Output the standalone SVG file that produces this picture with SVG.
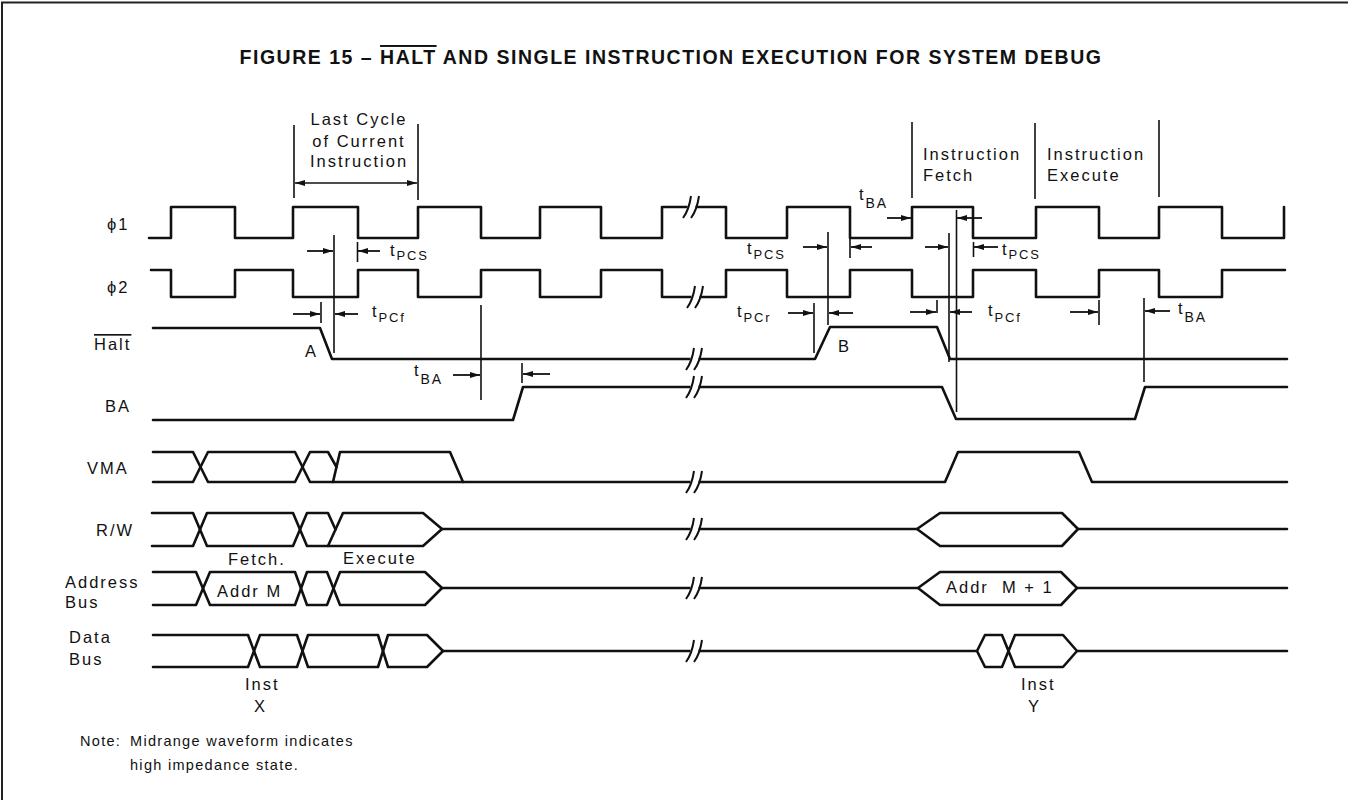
<svg xmlns="http://www.w3.org/2000/svg" width="1348" height="800" viewBox="0 0 1348 800">
<style>
.w{fill:none;stroke:#111;stroke-width:2.6;stroke-linejoin:round;stroke-linecap:round}
.r{fill:none;stroke:#111;stroke-width:1.6}
.a{fill:none;stroke:#111;stroke-width:1.8;marker-end:url(#ah)}
.t{font-family:"Liberation Sans",Arial,"DejaVu Sans",sans-serif;font-size:16.5px;letter-spacing:2px;fill:#111}
.s{font-size:13px;letter-spacing:1.8px}
.sb{font-size:14px;letter-spacing:1.8px}
.n{font-family:"Liberation Sans",Arial,sans-serif;font-size:14.5px;letter-spacing:1.3px;fill:#111}
.ttl{font-family:"Liberation Sans",Arial,sans-serif;font-size:19.5px;font-weight:bold;letter-spacing:1.5px;fill:#111}
.frame{fill:none;stroke:#222;stroke-width:2}
</style>
<defs>
<marker id="ah" viewBox="0 0 10 6" refX="10" refY="3" markerWidth="10" markerHeight="6" markerUnits="userSpaceOnUse" orient="auto-start-reverse" preserveAspectRatio="none"><path d="M0,0 L10,3 L0,6 z" fill="#111"/></marker>
<g id="brk"><rect x="-4.5" y="-5" width="8" height="10" fill="#fff"/><path d="M-9,11 Q-3,3 -1,-11 M-1,11 Q5,3 7,-11" fill="none" stroke="#111" stroke-width="2"/></g>
</defs>
<rect x="0" y="0" width="1348" height="800" fill="#fff"/>
<path class="frame" d="M2,800 V2.5 H1348"/>

<g id="title">
<text class="ttl" x="671" y="64" text-anchor="middle">FIGURE 15 – <tspan style="text-decoration:overline">HALT</tspan> AND SINGLE INSTRUCTION EXECUTION FOR SYSTEM DEBUG</text>
</g>

<g id="phase-labels">
<text class="t" x="359" y="125" text-anchor="middle">Last Cycle</text>
<text class="t" x="359" y="146.5" text-anchor="middle">of Current</text>
<text class="t" x="359" y="167" text-anchor="middle">Instruction</text>
<text class="t" x="923" y="160">Instruction</text>
<text class="t" x="923" y="181">Fetch</text>
<text class="t" x="1047" y="160">Instruction</text>
<text class="t" x="1047" y="181">Execute</text>
</g>

<g id="phi1">
<text class="t" x="107" y="230">ϕ1</text>
<path class="w" d="M149,238 H171 V207 H235 V238 H293 V207 H358 V238 H418 V207 H481 V238 H540 V207 H601 V238 H662 V207 H726 V238 H787 V207 H850 V238 H912 V207 H973 V238 H1036 V207 H1099 V238 H1159 V207 H1222 V238 H1284 V207"/>
<use href="#brk" x="692" y="207"/>
</g>

<g id="phi2">
<text class="t" x="107" y="293">ϕ2</text>
<path class="w" d="M151,270 H171 V297 H235 V270 H293 V297 H358 V270 H418 V297 H481 V270 H540 V297 H601 V270 H662 V297 H726 V270 H787 V297 H850 V270 H912 V297 H973 V270 H1036 V297 H1099 V270 H1159 V297 H1222 V270 H1285"/>
<use href="#brk" x="696" y="297"/>
</g>

<g id="halt">
<text class="t" x="94" y="350" style="text-decoration:overline">Halt</text>
<path class="w" d="M153,328 H320 L332,359 H815 L830,327 H937 L950,359 H1287"/>
<use href="#brk" x="695" y="359"/>
<text class="t" x="305" y="357">A</text>
<text class="t" x="838" y="352">B</text>
</g>

<g id="ba">
<text class="t" x="105" y="412">BA</text>
<path class="w" d="M153,420 H513 L523,387 H942 L956,419 H1135 L1145,387 H1287"/>
<use href="#brk" x="695" y="387"/>
</g>

<g id="vma">
<text class="t" x="87" y="474">VMA</text>
<path class="w" d="M153,452 H193 L208,482 H295 L310,452 H328 L336.5,467"/>
<path class="w" d="M153,482 H193 L208,452 H295 L310,482 H945 L958,452 H1079 L1092,482 H1287"/>
<path class="w" d="M333,482 L340,452 H450 L463,482"/>
<use href="#brk" x="695" y="482"/>
</g>

<g id="rw">
<text class="t" x="96" y="536">R/W</text>
<path class="w" d="M152,513 H193 L207,546 H293 L307,513 H328 L335.5,529.5"/>
<path class="w" d="M152,546 H193 L207,513 H293 L307,546 H423 L442,529 H917 M1078,529 H1287"/>
<path class="w" d="M328,546 L343,513 H423 L442,529"/>
<path class="w" d="M917,529 L940,513 H1062 L1078,529 L1062,546 H940 Z"/>
<use href="#brk" x="695" y="529"/>
</g>

<g id="address-bus">
<text class="t" x="65" y="588">Address</text>
<text class="t" x="65" y="608">Bus</text>
<path class="w" d="M153,572 H196 L210,605 H295 L307,572 H327 L340,605 H425 L442,588 H918 M1077,588 H1287"/>
<path class="w" d="M153,605 H196 L210,572 H295 L307,605 H327 L340,572 H425 L442,588"/>
<path class="w" d="M918,588 L940,572 H1061 L1077,588 L1061,605 H940 Z"/>
<use href="#brk" x="695" y="588"/>
<text class="t" x="228" y="565">Fetch.</text>
<text class="t" x="343" y="564">Execute</text>
<text class="t" x="217" y="597">Addr M</text>
<text class="t" x="946" y="593">Addr&#160; M + 1</text>
</g>

<g id="data-bus">
<text class="t" x="69" y="643">Data</text>
<text class="t" x="69" y="665">Bus</text>
<path class="w" d="M153,635 H248 L260,667 H297 L308,635 H378 L388,667 H427 L443,651 H977 M1077,651 H1287"/>
<path class="w" d="M153,667 H248 L260,635 H297 L308,667 H378 L388,635 H427 L443,651"/>
<path class="w" d="M977,651 L985,635 H1002 L1015,667 H1063 L1077,651 L1063,635 H1015 L1002,667 H985 Z"/>
<use href="#brk" x="695" y="651"/>
<text class="t" x="245" y="690">Inst</text>
<text class="t" x="254" y="712">X</text>
<text class="t" x="1021" y="690">Inst</text>
<text class="t" x="1028" y="712">Y</text>
</g>

<g id="connectors">
<line class="r" x1="294" y1="125" x2="294" y2="198"/>
<line class="r" x1="418" y1="124" x2="418" y2="200"/>
<line class="r" x1="295" y1="183" x2="417" y2="183" marker-start="url(#ah)" marker-end="url(#ah)"/>
<line class="r" x1="912" y1="122" x2="912" y2="198"/>
<line class="r" x1="1035" y1="123" x2="1035" y2="199"/>
<line class="r" x1="1159" y1="120" x2="1159" y2="197"/>

<line class="r" x1="334" y1="235" x2="334" y2="353"/>
<line class="r" x1="357.5" y1="242" x2="357.5" y2="262"/>
<line class="r" x1="321" y1="302" x2="321" y2="323"/>
<line class="r" x1="481" y1="305" x2="481" y2="400"/>
<line class="r" x1="522" y1="363" x2="522" y2="383"/>
<line class="r" x1="828" y1="232" x2="828" y2="325"/>
<line class="r" x1="850" y1="237" x2="850" y2="258"/>
<line class="r" x1="814" y1="303" x2="814" y2="353"/>
<line class="r" x1="956.5" y1="210" x2="956.5" y2="412"/>
<line class="r" x1="949" y1="233" x2="949" y2="362"/>
<line class="r" x1="973.5" y1="242" x2="973.5" y2="257"/>
<line class="r" x1="937" y1="300" x2="937" y2="313"/>
<line class="r" x1="1099" y1="300" x2="1099" y2="325"/>
<line class="r" x1="1144" y1="298" x2="1144" y2="382"/>

<line class="a" x1="307" y1="251" x2="333" y2="251"/>
<line class="a" x1="380" y1="251" x2="358" y2="251"/>
<line class="a" x1="293" y1="314" x2="320" y2="314"/>
<line class="a" x1="358" y1="314" x2="335" y2="314"/>
<line class="a" x1="453" y1="375" x2="480" y2="375"/>
<line class="a" x1="550" y1="374" x2="523" y2="374"/>
<line class="a" x1="803" y1="247" x2="827" y2="247"/>
<line class="a" x1="872" y1="247" x2="851" y2="247"/>
<line class="a" x1="788" y1="313" x2="813" y2="313"/>
<line class="a" x1="853" y1="313" x2="829" y2="313"/>
<line class="a" x1="887" y1="218" x2="911" y2="218"/>
<line class="a" x1="982" y1="218" x2="957" y2="218"/>
<line class="a" x1="925" y1="247" x2="948" y2="247"/>
<line class="a" x1="998" y1="247" x2="974" y2="247"/>
<line class="a" x1="910" y1="312" x2="936" y2="312"/>
<line class="a" x1="972" y1="312" x2="950" y2="312"/>
<line class="a" x1="1070" y1="312" x2="1098" y2="312"/>
<line class="a" x1="1170" y1="311" x2="1145" y2="311"/>

<text class="t" x="390" y="256">t<tspan class="s" dy="4">PCS</tspan></text>
<text class="t" x="372" y="317">t<tspan class="s" dy="5">PCf</tspan></text>
<text class="t" x="414" y="376">t<tspan class="sb" dy="8">BA</tspan></text>
<text class="t" x="747" y="254">t<tspan class="s" dy="5">PCS</tspan></text>
<text class="t" x="737" y="317">t<tspan class="s" dy="5">PCr</tspan></text>
<text class="t" x="859" y="200">t<tspan class="sb" dy="8">BA</tspan></text>
<text class="t" x="1002" y="255">t<tspan class="s" dy="4">PCS</tspan></text>
<text class="t" x="988" y="316">t<tspan class="s" dy="6">PCf</tspan></text>
<text class="t" x="1178" y="314">t<tspan class="sb" dy="8">BA</tspan></text>
</g>

<g id="note">
<text class="n" x="80" y="746">Note:<tspan x="130">Midrange waveform indicates</tspan></text>
<text class="n" x="130" y="770">high impedance state.</text>
</g>
</svg>
